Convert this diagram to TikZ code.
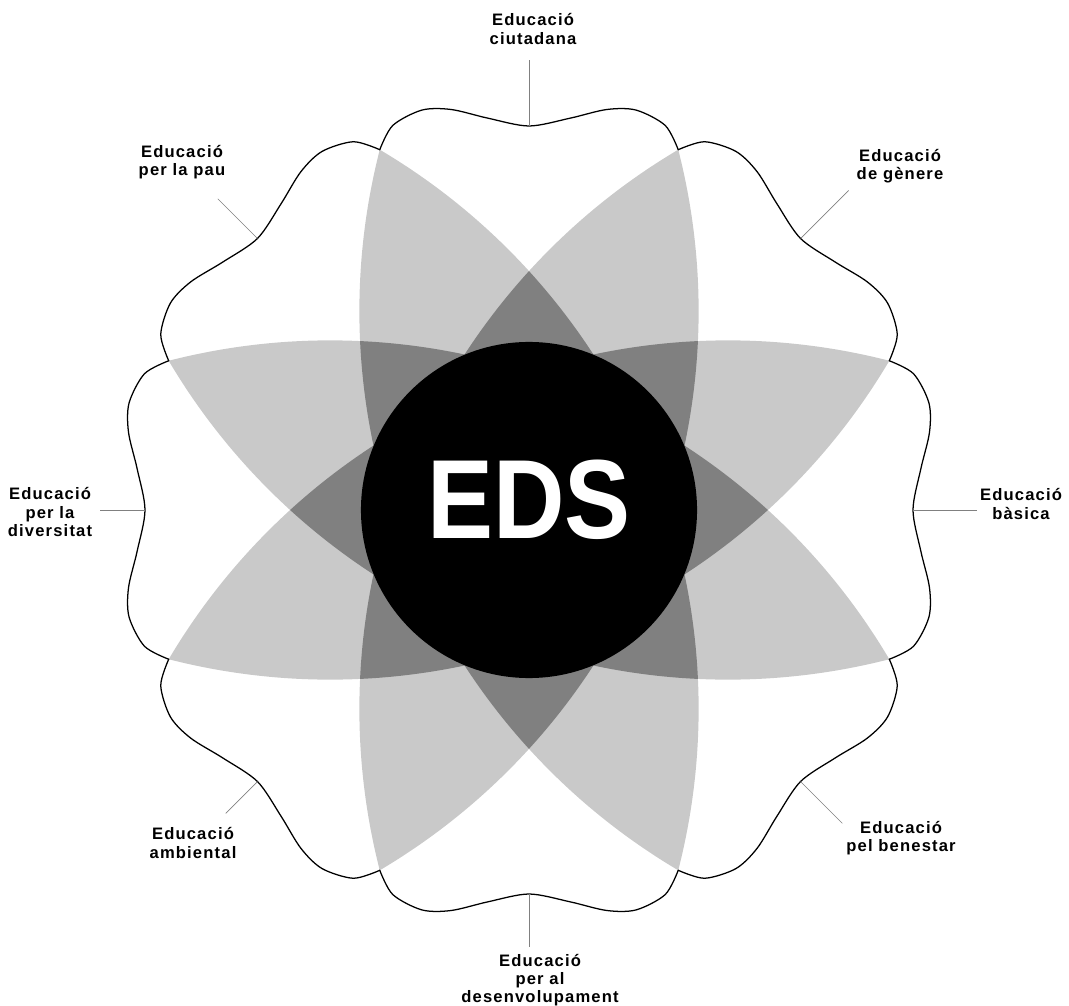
\documentclass[tikz,border=0pt]{standalone}
\usepackage{fontspec}
\setmainfont{Liberation Sans}
\newfontfamily\edufont[LetterSpace=7]{Liberation Sans}
\usetikzlibrary{calc}
\definecolor{petalgray}{RGB}{201,201,201}
\definecolor{overlapgray}{RGB}{128,128,128}
\tikzstyle{edu} = [align=center, inner sep=0pt, font=\edufont\bfseries\fontsize{11.8}{13}\selectfont]
\tikzstyle{tick} = [gray, line width=0.5pt]
\tikzstyle{rim} = [black, line width=0.9pt, line join=round, line cap=round]
\tikzstyle{core} = [circle, fill=black, minimum size=8.4cm, inner sep=0pt]
\tikzstyle{big} = [inner sep=0pt, text=white, font=\bfseries\fontsize{80}{80}\selectfont]
% one petal: two arcs of radius 650 meeting at (#1:390) and (#1+180:390)
\newcommand{\petal}[1]{(#1:390) arc[start angle=#1+53.13, end angle=#1+126.87, radius=650] arc[start angle=#1+233.13, end angle=#1+306.87, radius=650] -- cycle}

\begin{document}
\begin{tikzpicture}[x=0.025cm, y=0.025cm]

        \useasboundingbox (-529,-495) rectangle (540,510);

        % petals
        \foreach \a in {22.5,67.5,112.5,157.5}
            \fill[petalgray] \petal{\a};

        % where two petals overlap
        \foreach \a/\b in {22.5/67.5, 22.5/112.5, 22.5/157.5, 67.5/112.5, 67.5/157.5, 112.5/157.5} {
            \begin{scope}
                \clip \petal{\a};
                \fill[overlapgray] \petal{\b};
            \end{scope}
        }

        % wavy rim, one lobe per theme
        \foreach \r in {0,45,...,315}
            \draw[rim, rotate=\r] plot[smooth] coordinates {(-22.5:390) (-19.5:408) (-15:414) (-11:408) (-6:394) (0:384) (6:394) (11:408) (15:414) (19.5:408) (22.5:390)};

        \node (EDS) [core] at (0,0) {};
        \node (EDSt) [big] at ([yshift=0.25cm]EDS.center) {\scalebox{0.88}[1]{EDS}};

        \node (CIU) [edu] at (4,481) {Educació\\ciutadana};
        \node (GEN) [edu] at (371,344) {Educació\\de gènere};
        \node (BAS) [edu] at (492,6) {Educació\\bàsica};
        \node (BEN) [edu] at (372,-328) {Educació\\pel benestar};
        \node (DES) [edu] at (11,-470) {Educació\\per al\\desenvolupament};
        \node (AMB) [edu] at (-336,-333) {Educació\\ambiental};
        \node (DIV) [edu] at (-479,-2) {Educació\\per la\\diversitat};
        \node (PAU) [edu] at (-347,348) {Educació\\per la pau};

        % ticks from the rim towards the themes
        \foreach \a/\o in {0/448, 45/452, 90/450, 135/440, 180/429, 225/429, 270/437, 315/443} {
            \coordinate (in-\a) at (\a:384);
            \coordinate (out-\a) at (\a:\o);
            \draw[tick] (in-\a) -- (out-\a);
        }

    \end{tikzpicture}
\end{document}
